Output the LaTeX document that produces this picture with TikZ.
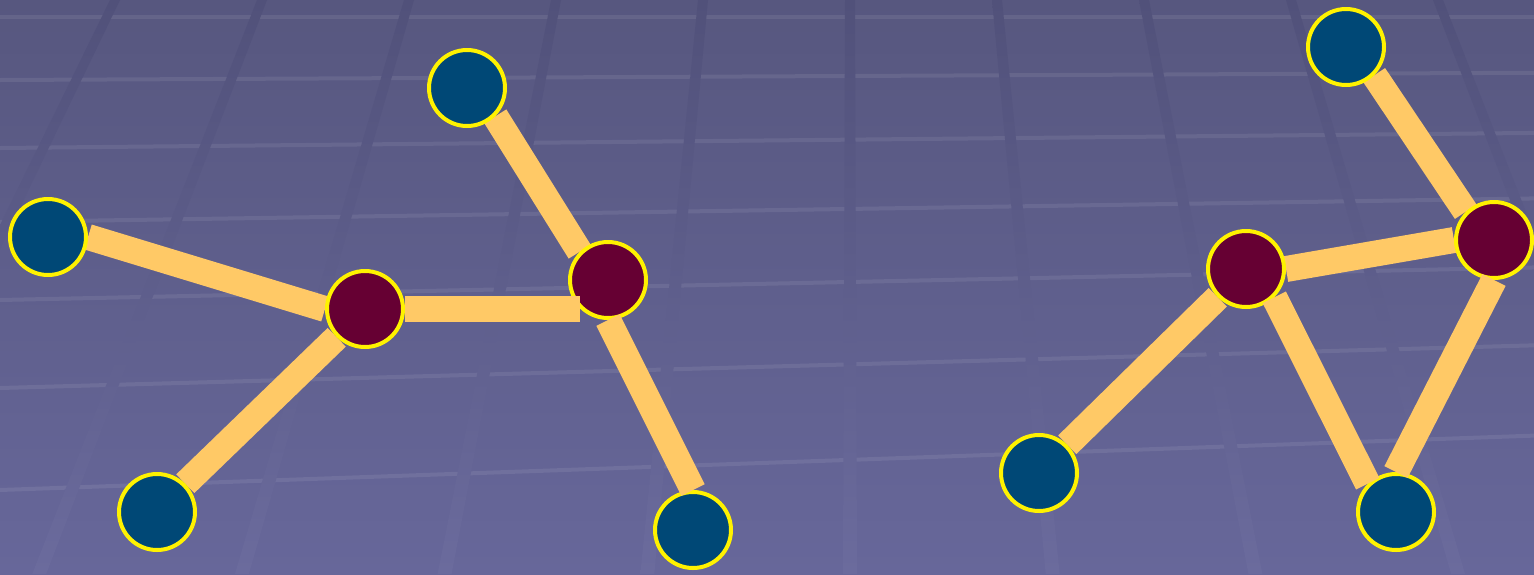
\documentclass[tikz,border=0pt]{standalone}
\usetikzlibrary{positioning}
\definecolor{bgtop}{HTML}{57577F}
\definecolor{bgbot}{HTML}{67679A}
\definecolor{gridtop}{HTML}{51517A}
\definecolor{gridbot}{HTML}{6B6B9D}
\definecolor{atomblue}{HTML}{004876}
\definecolor{atomred}{HTML}{660033}
\definecolor{bondcol}{HTML}{FFC966}
\pgfdeclarelayer{grid}
\pgfdeclarelayer{bonds}
\pgfsetlayers{grid,bonds,main}

\begin{document}
\begin{tikzpicture}[x=1pt,y=-1pt,
	atom/.style={circle,draw=yellow,line width=4pt,minimum size=76pt,inner sep=0pt},
	blueatom/.style={atom,fill=atomblue},
	redatom/.style={atom,fill=atomred},
	bond/.style={line width=26pt,draw=bondcol,line cap=butt}]
		
		\useasboundingbox (0,0) rectangle (1534,574);
		
		\begin{pgfonlayer}{grid}
		\shade[top color=bgtop,bottom color=bgbot] (0,0) rectangle (1534,574);
		\begin{scope}
		\clip (0,0) rectangle (1534,574);
		\foreach \yl in {17,80,148,222,300,388,490}
		\draw[white,opacity=.08,line width=4pt] (0,\yl) -- (1534,{\yl-(\yl-17)*0.115});
		\foreach \k in {-6,...,6}
		\shade[top color=gridtop,bottom color=gridbot]
		({850+147*\k-5},0) -- ({850+147*\k+5},0) --
		({850+202.7*\k+7},574) -- ({850+202.7*\k-7},574) -- cycle;
		\end{scope}
		\end{pgfonlayer}
		
		% left molecule
		\node[blueatom] (b1) at (48,237) {};
		\node[blueatom] (b2) at (467,88) {};
		\node[blueatom] (b3) at (157,512) {};
		\node[blueatom] (b4) at (693,530) {};
		\node[redatom] (r1) at (365,309) {};
		\node[redatom] (r2) at (608,280) {};
		
		% right molecule
		\node[blueatom] (b5) at (1346,47) {};
		\node[blueatom] (b6) at (1039,473) {};
		\node[blueatom] (b7) at (1396,512) {};
		\node[redatom] (r3) at (1246,269) {};
		\node[redatom] (r4) at (1494,240) {};
		
		\begin{pgfonlayer}{bonds}
		\draw[bond] (b1.east) -- (r1.west);
		\draw[bond] (r1.south west) -- (b3.north east);
		\draw[bond] (b2.south east) -- (r2.north west);
		\draw[bond] (b6.north east) -- (r3.south west);
		\draw[bond] (r3.east) -- (r4.west);
		\draw[bond] (b5.south east) -- (r4.north west);
		\end{pgfonlayer}
		
		\draw[bond] (r1.east) -- ([xshift=12pt]r1 -| r2.west);
		\draw[bond] (r2.south) -- (b4.north);
		\draw[bond] (r3.south east) -- (b7.north west);
		\draw[bond] (r4.south) -- (b7.north);
		
	\end{tikzpicture}
\end{document}
